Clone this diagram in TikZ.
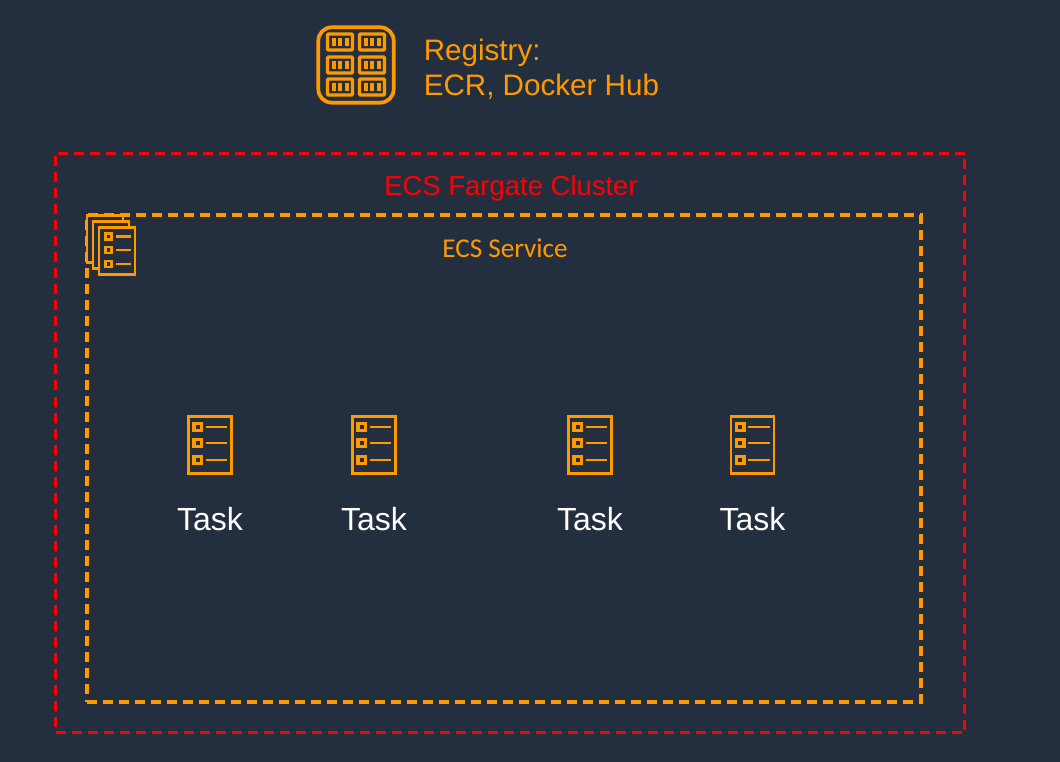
\documentclass[tikz,border=0pt]{standalone}
\usepackage{fontspec}
\setmainfont{Liberation Sans}
\newfontfamily\carlito{Carlito}
\usetikzlibrary{positioning}
\definecolor{slate}{RGB}{35,47,62}
\definecolor{amber}{RGB}{255,153,0}
\definecolor{alarm}{RGB}{255,0,0}
\tikzstyle{outer} = [draw=alarm, line width=2.25pt, dash pattern=on 7.5pt off 4.5pt, minimum width=681.75pt, minimum height=434.25pt, inner sep=0pt]
\tikzstyle{inner} = [draw=amber, line width=3pt, dash pattern=on 7.5pt off 4.5pt, minimum width=625.5pt, minimum height=365.25pt, inner sep=0pt]
\tikzstyle{sheet} = [draw=amber, fill=slate, line width=1.8pt, minimum width=32.5pt, minimum height=43pt, inner sep=0pt]
\tikzstyle{smallsheet} = [draw=amber, fill=slate, line width=1.8pt, minimum width=26.8pt, minimum height=35.5pt, inner sep=0pt]
\tikzstyle{rack} = [draw=amber, line width=2.8pt, rounded corners=10pt, minimum width=56.5pt, minimum height=56.5pt, inner sep=0pt]
\tikzstyle{tasktext} = [text=white, font=\fontsize{24}{28}\selectfont, inner sep=0pt, node distance=55.5pt]
\tikzset{
  checklist/.pic={
    \foreach \y in {-18,-2,15} {
      \draw [amber, line width=2.4pt] (-16,\y-3.7) rectangle (-8.6,\y+3.7);
      \draw [amber, line width=1.8pt] (-4.5,\y) -- (17,\y);
    }
  },
  smallchecklist/.pic={
    \foreach \y in {-14.5,-1,13} {
      \draw [amber, line width=2.2pt] (-11.5,\y-3) rectangle (-5.5,\y+3);
      \draw [amber, line width=1.6pt] (-1,\y) -- (13.5,\y);
    }
  },
  drawer/.pic={
    \draw [amber, line width=2.6pt, rounded corners=0.8pt] (-12.5,-8) rectangle (12.5,8);
    \foreach \x in {-6.5,0,6.5} \fill [amber] (\x-2,-3.7) rectangle (\x+2,3.7);
  }
}
\begin{document}
\begin{tikzpicture}[x=0.75pt,y=-0.75pt]
\fill [slate] (0,0) rectangle (1060,762);
\useasboundingbox (0,0) rectangle (1060,762);

% registry
\node [rack] (registry) at (356,65) {};
\foreach \x in {-16,16} \foreach \y in {-23,0,22} \pic at ([shift={(\x,\y)}]registry.center) {drawer};
\node [text=amber, font=\fontsize{22.2}{26.25}\selectfont, align=left, anchor=west, inner sep=0pt, right=21pt of registry, yshift=-3.2pt] (regtext) {Registry:\\ECR, Docker Hub};

% boxes
\node [outer] (cluster) at (510,443) {};
\node [inner] (service) at (504,458.5) {};
\node [text=alarm, font=\fontsize{20.6}{24}\selectfont, inner sep=0pt] (clustertext) at (511,188) {ECS Fargate Cluster};
\node [text=amber, font=\carlito\fontsize{20.4}{24}\selectfont, inner sep=0pt] (servicetext) at (505,248) {ECS Service};

% service icon
\node [smallsheet] (stack3) at (105,239) {};
\node [smallsheet, below right=4.5pt and 4.5pt of stack3.north west, anchor=north west] (stack2) {};
\node [smallsheet, below right=4.5pt and 4.5pt of stack2.north west, anchor=north west] (stack1) {};
\pic at (stack1) {smallchecklist};

% tasks
\node [sheet] (task1) at (210,445) {};
\node [sheet] (task2) at (374,445) {};
\node [sheet] (task3) at (590,445) {};
\node [sheet] (task4) at (752.5,445) {};
\foreach \n in {1,2,3,4} {
  \pic at (task\n) {checklist};
  \node [tasktext, below of=task\n] (text\n) {Task};
}
\end{tikzpicture}
\end{document}
